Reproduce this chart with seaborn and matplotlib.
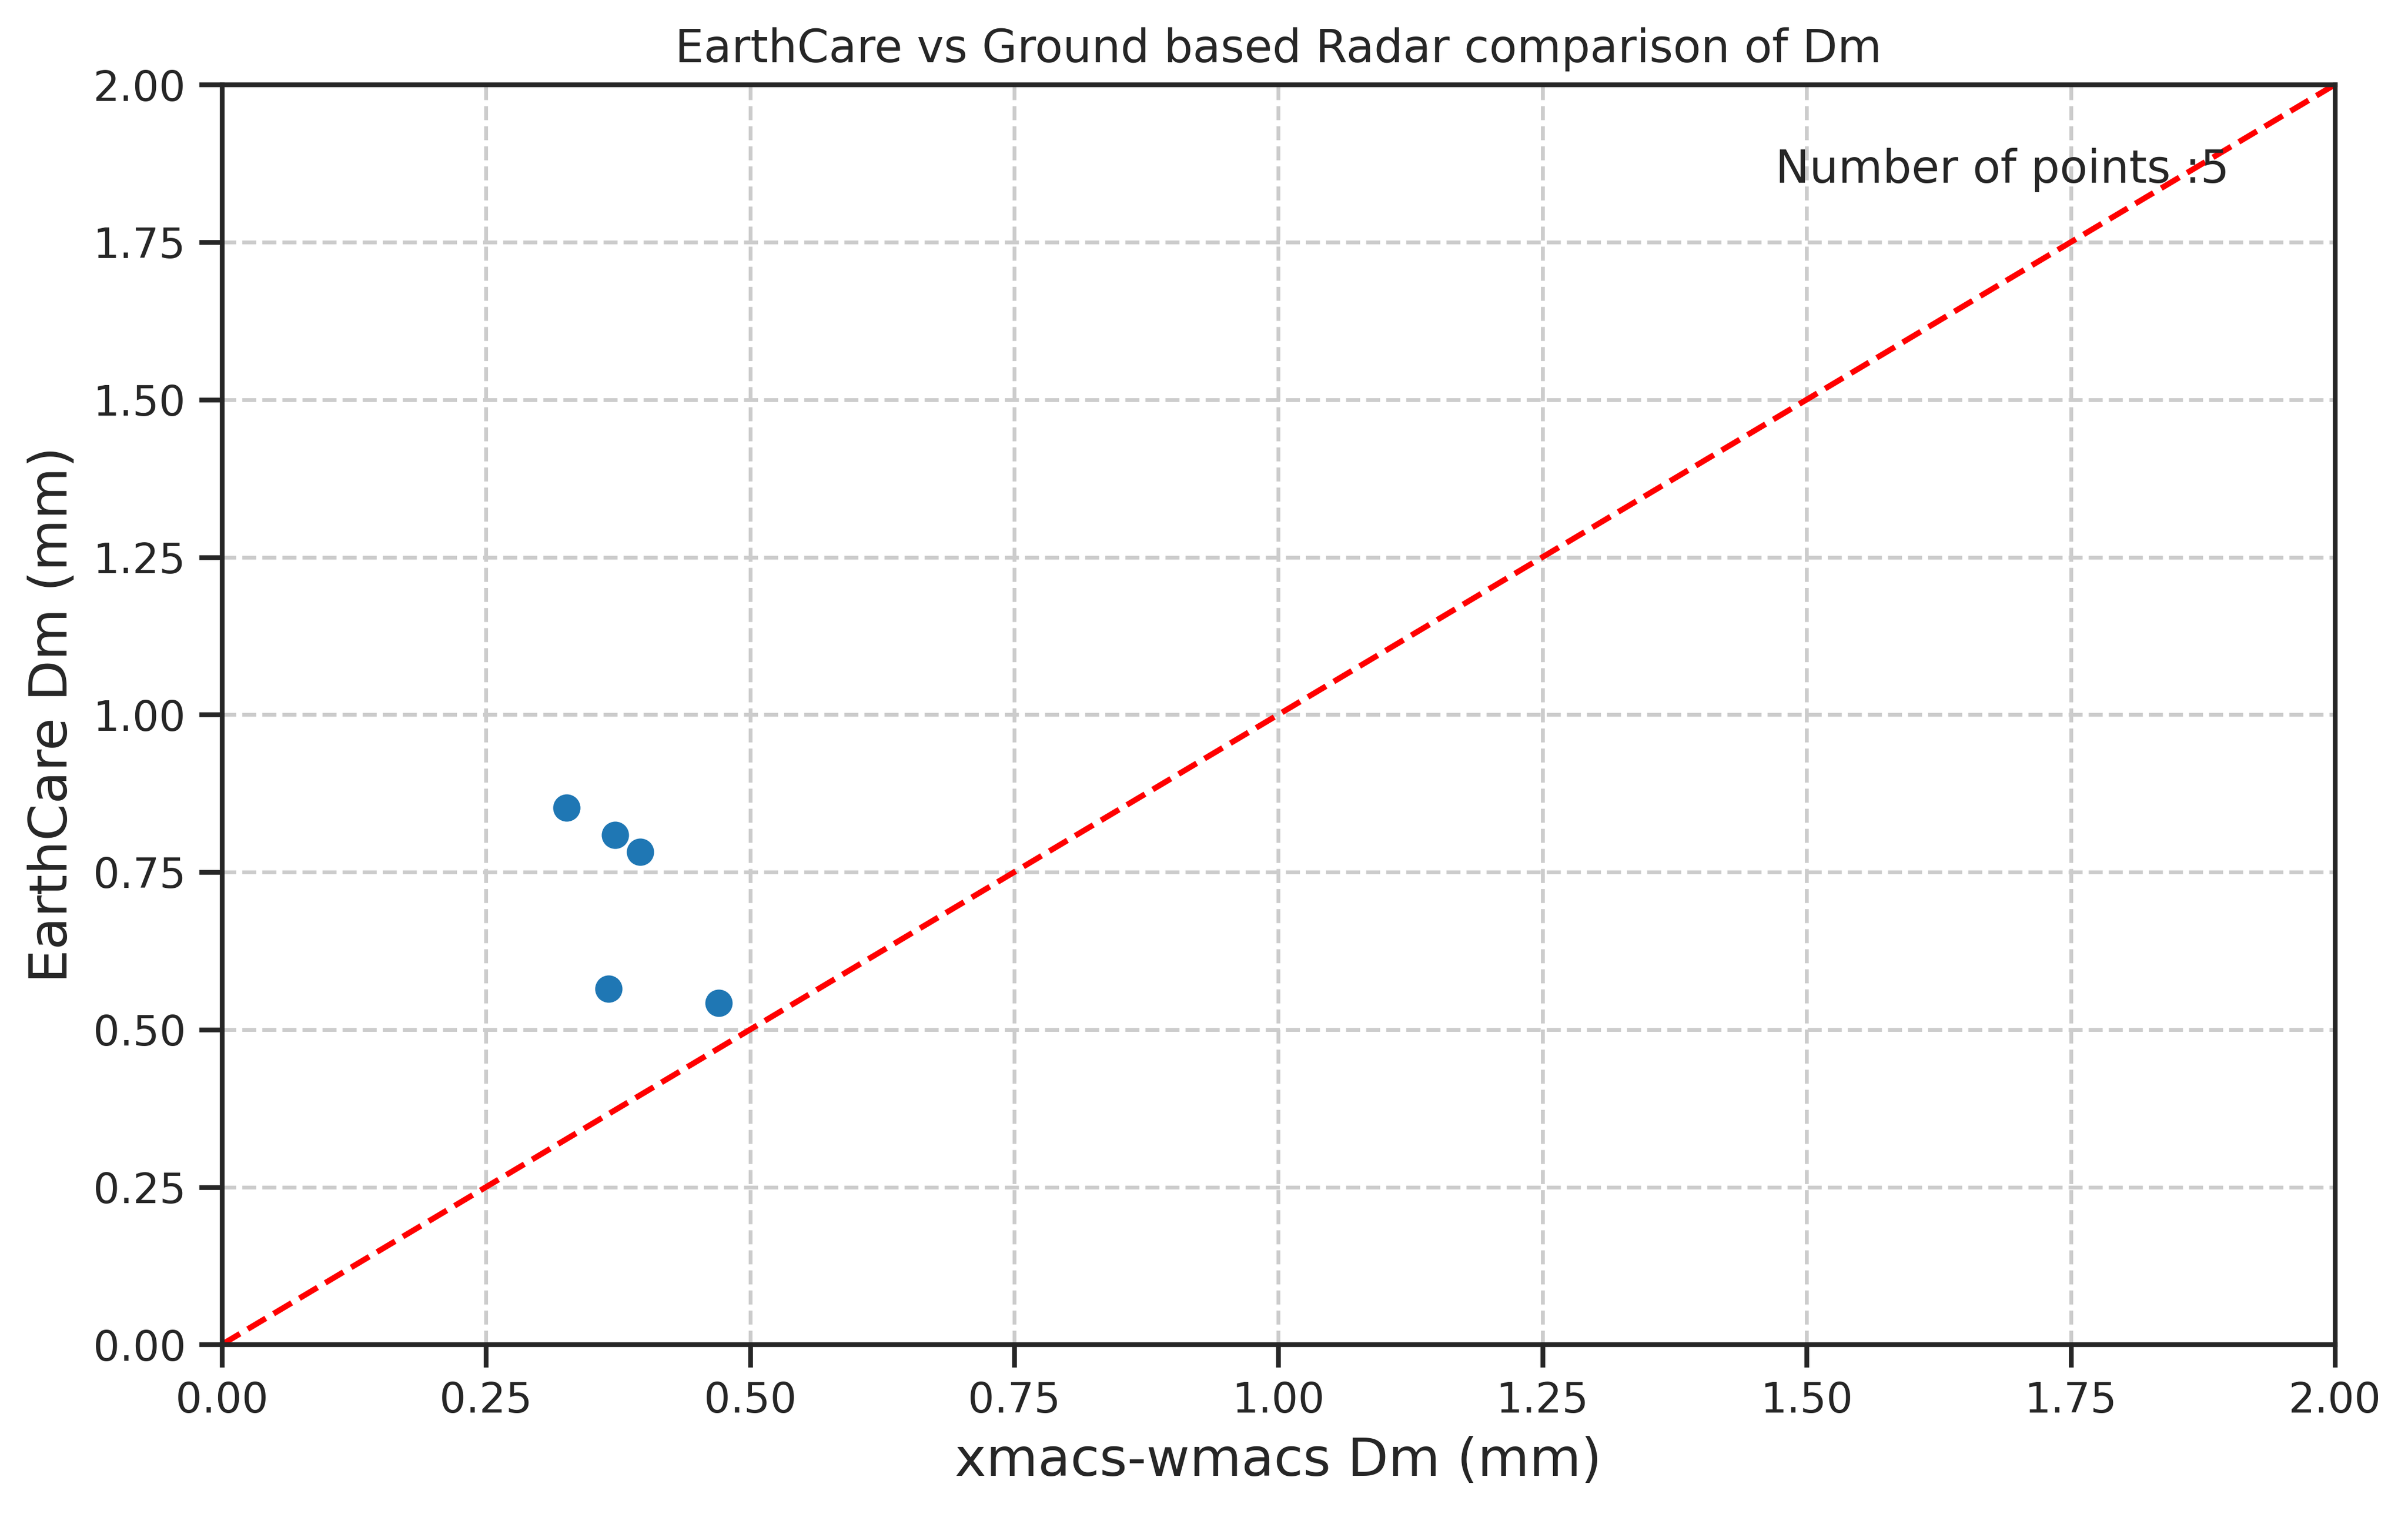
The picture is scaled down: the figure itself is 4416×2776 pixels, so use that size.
import matplotlib
matplotlib.use("Agg")
import matplotlib.pyplot as plt
import pandas as pd
import seaborn as sns

# Dm values (mm)
dm_ground = [0.326, 0.372, 0.396, 0.366, 0.470]
dm_earthcare = [0.852, 0.809, 0.782, 0.565, 0.542]

# 1:1 reference line end points
one_to_one = [0.0, 2.0]
axis_ticks = [0.0, 0.25, 0.5, 0.75, 1.0, 1.25, 1.5, 1.75, 2.0]


def main():
    sns.set_theme(style="ticks", context="notebook")

    df = pd.DataFrame({"ground": dm_ground, "earthcare": dm_earthcare})

    fig, ax = plt.subplots(figsize=(10, 6))
    sns.scatterplot(data=df, x="ground", y="earthcare", ax=ax,
                    color="#1f77b4", s=52, linewidth=0, zorder=3)
    # pure red, seaborn remaps the "r" shorthand
    ax.plot(one_to_one, one_to_one, color="#ff0000", linestyle="--", zorder=2)

    ax.set_xlim(0, 2)
    ax.set_ylim(0, 2)
    ax.set_xticks(axis_ticks)
    ax.set_yticks(axis_ticks)
    ax.grid(True, linestyle="--")

    ax.set_title("EarthCare vs Ground based Radar comparison of Dm", fontsize=12)
    ax.set_xlabel("xmacs-wmacs Dm (mm)", fontsize=14)
    ax.set_ylabel("EarthCare Dm (mm)", fontsize=14)
    ax.text(0.95, 0.95, f"Number of points :{len(dm_ground)}",
            transform=ax.transAxes, ha="right", va="top", fontsize=12)

    fig.savefig("out.png", dpi=500, bbox_inches="tight")
    plt.close(fig)


if __name__ == "__main__":
    main()
